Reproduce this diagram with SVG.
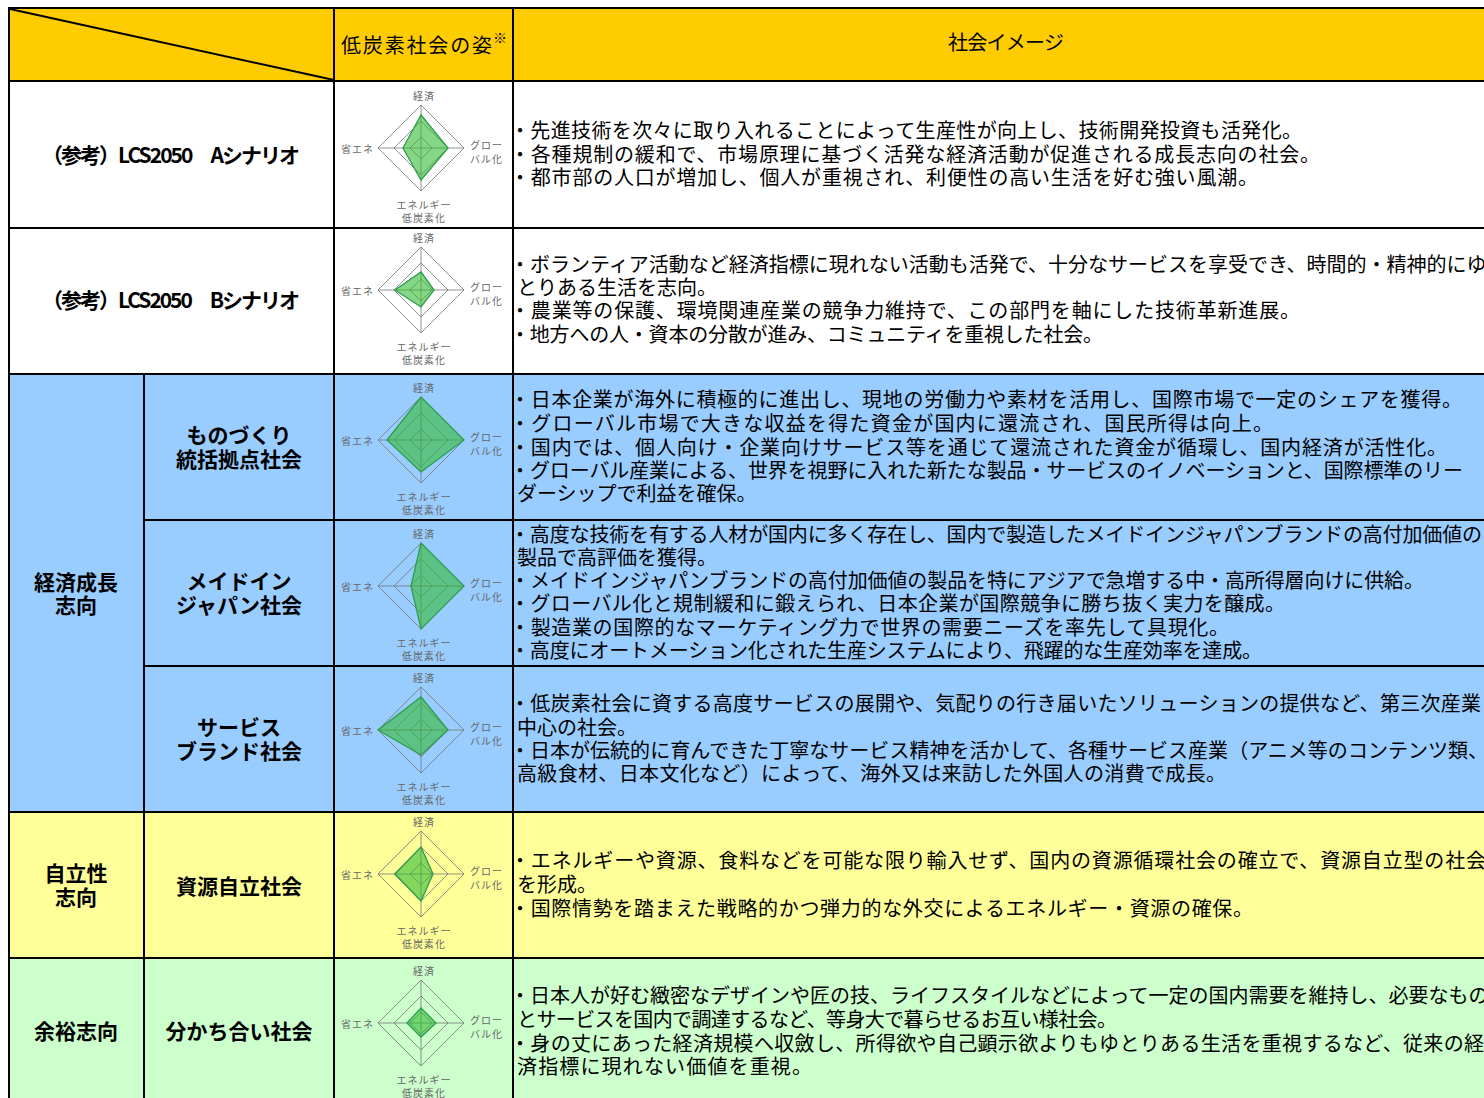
<svg xmlns="http://www.w3.org/2000/svg" xmlns:xlink="http://www.w3.org/1999/xlink" width="1484" height="1098" viewBox="0 0 1484 1098">
<style>
text{font-family:"Noto Sans CJK JP","Liberation Sans",sans-serif;fill:#000}
.b{font-size:20px}
.h{font-size:20px}
.lbl{font-size:21px;font-weight:700;text-anchor:middle}
.ax{font-size:10px;fill:#666;letter-spacing:1px}
.grid{fill:none;stroke:#777;stroke-width:1;stroke-opacity:.8}
.area{fill:#33BB33;fill-opacity:.6;stroke:#2E9E4E;stroke-width:1.3}
.ln{stroke:#000;stroke-width:2;fill:none}
</style>
<defs>
<g id="radar">
<polygon class="grid" points="0,-43 43,0 0,43 -43,0"/>
<polygon class="grid" points="0,-27 27,0 0,27 -27,0"/>
<polygon class="grid" points="0,-11 11,0 0,11 -11,0"/>
<line class="grid" x1="0" y1="-43" x2="0" y2="43"/>
<line class="grid" x1="-43" y1="0" x2="43" y2="0"/>
<text class="ax" x="3" y="-48" text-anchor="middle">経済</text>
<text class="ax" x="-80" y="5">省エネ</text>
<text class="ax" x="49" y="1">グロー</text>
<text class="ax" x="49" y="15">バル化</text>
<text class="ax" x="3" y="61" text-anchor="middle">エネルギー</text>
<text class="ax" x="3" y="74" text-anchor="middle">低炭素化</text>
</g>
</defs>

<g id="backgrounds">
<rect x="9" y="8" width="1475" height="73" fill="#FFCC00"/>
<rect x="9" y="82" width="1475" height="292" fill="#FFFFFF"/>
<rect x="9" y="374" width="1475" height="438" fill="#99CCFF"/>
<rect x="9" y="812" width="1475" height="146" fill="#FFFF99"/>
<rect x="9" y="958" width="1475" height="140" fill="#CCFFCC"/>
</g>

<g id="header">
<text class="h" x="341" y="53" textLength="151">低炭素社会の姿</text>
<text x="493" y="43" font-size="14">※</text>
<text class="h" x="948" y="50" textLength="116">社会イメージ</text>
</g>

<g id="row-a">
<text class="lbl" x="171" y="163" textLength="258">（参考）LCS2050　Aシナリオ</text>
<g id="radar-a" transform="translate(421,148)"><use xlink:href="#radar"/><polygon class="area" points="0,-33 27,0 0,32 -18,0"/></g>
<text class="b" x="510" y="138" textLength="792">・先進技術を次々に取り入れることによって生産性が向上し、技術開発投資も活発化。</text>
<text class="b" x="510" y="162" textLength="810">・各種規制の緩和で、市場原理に基づく活発な経済活動が促進される成長志向の社会。</text>
<text class="b" x="510" y="185" textLength="748">・都市部の人口が増加し、個人が重視され、利便性の高い生活を好む強い風潮。</text>
</g>

<g id="row-b">
<text class="lbl" x="171" y="308" textLength="258">（参考）LCS2050　Bシナリオ</text>
<g id="radar-b" transform="translate(421,290)"><use xlink:href="#radar"/><polygon class="area" points="0,-18 13,0 0,17 -26,0"/></g>
<text class="b" x="510" y="272">・ボランティア活動など経済指標に現れない活動も活発で、十分なサービスを享受でき、時間的・精神的にゆ</text>
<text class="b" x="517" y="295">とりある生活を志向。</text>
<text class="b" x="510" y="318" textLength="790">・農業等の保護、環境関連産業の競争力維持で、この部門を軸にした技術革新進展。</text>
<text class="b" x="510" y="342" textLength="593">・地方への人・資本の分散が進み、コミュニティを重視した社会。</text>
</g>

<g id="group-growth">
<text class="lbl" x="76" y="590">経済成長</text>
<text class="lbl" x="76" y="613">志向</text>
</g>

<g id="row-monozukuri">
<text class="lbl" x="239" y="443">ものづくり</text>
<text class="lbl" x="239" y="467">統括拠点社会</text>
<g id="radar-monozukuri" transform="translate(421,440)"><use xlink:href="#radar"/><polygon class="area" points="0,-43 43,0 0,32 -34,0"/></g>
<text class="b" x="510" y="407" textLength="952">・日本企業が海外に積極的に進出し、現地の労働力や素材を活用し、国際市場で一定のシェアを獲得。</text>
<text class="b" x="510" y="431" textLength="763">・グローバル市場で大きな収益を得た資金が国内に還流され、国民所得は向上。</text>
<text class="b" x="510" y="455" textLength="937">・国内では、個人向け・企業向けサービス等を通じて還流された資金が循環し、国内経済が活性化。</text>
<text class="b" x="510" y="478" textLength="953">・グローバル産業による、世界を視野に入れた新たな製品・サービスのイノベーションと、国際標準のリー</text>
<text class="b" x="517" y="501">ダーシップで利益を確保。</text>
</g>

<g id="row-madeinjapan">
<text class="lbl" x="239" y="589">メイドイン</text>
<text class="lbl" x="239" y="613">ジャパン社会</text>
<g id="radar-madeinjapan" transform="translate(421,586)"><use xlink:href="#radar"/><polygon class="area" points="0,-43 43,0 0,43 -10,0"/></g>
<text class="b" x="510" y="542" textLength="972">・高度な技術を有する人材が国内に多く存在し、国内で製造したメイドインジャパンブランドの高付加価値の</text>
<text class="b" x="517" y="565">製品で高評価を獲得。</text>
<text class="b" x="510" y="588" textLength="914">・メイドインジャパンブランドの高付加価値の製品を特にアジアで急増する中・高所得層向けに供給。</text>
<text class="b" x="510" y="611" textLength="775">・グローバル化と規制緩和に鍛えられ、日本企業が国際競争に勝ち抜く実力を醸成。</text>
<text class="b" x="510" y="635" textLength="719">・製造業の国際的なマーケティング力で世界の需要ニーズを率先して具現化。</text>
<text class="b" x="510" y="658" textLength="752">・高度にオートメーション化された生産システムにより、飛躍的な生産効率を達成。</text>
</g>

<g id="row-service">
<text class="lbl" x="239" y="735">サービス</text>
<text class="lbl" x="239" y="759">ブランド社会</text>
<g id="radar-service" transform="translate(421,730)"><use xlink:href="#radar"/><polygon class="area" points="0,-33 27,0 0,25 -43,0"/></g>
<text class="b" x="510" y="711" textLength="971">・低炭素社会に資する高度サービスの展開や、気配りの行き届いたソリューションの提供など、第三次産業</text>
<text class="b" x="517" y="735">中心の社会。</text>
<text class="b" x="510" y="758" textLength="978">・日本が伝統的に育んできた丁寧なサービス精神を活かして、各種サービス産業（アニメ等のコンテンツ類、</text>
<text class="b" x="517" y="781" textLength="709">高級食材、日本文化など）によって、海外又は来訪した外国人の消費で成長。</text>
</g>

<g id="group-independence">
<text class="lbl" x="76" y="881">自立性</text>
<text class="lbl" x="76" y="905">志向</text>
</g>

<g id="row-resource">
<text class="lbl" x="239" y="894">資源自立社会</text>
<g id="radar-resource" transform="translate(421,874)"><use xlink:href="#radar"/><polygon class="area" points="0,-27 12,0 0,27 -26,0"/></g>
<text class="b" x="510" y="868" textLength="976">・エネルギーや資源、食料などを可能な限り輸入せず、国内の資源循環社会の確立で、資源自立型の社会</text>
<text class="b" x="517" y="892">を形成。</text>
<text class="b" x="510" y="916" textLength="743">・国際情勢を踏まえた戦略的かつ弾力的な外交によるエネルギー・資源の確保。</text>
</g>

<g id="group-leisure">
<text class="lbl" x="76" y="1039">余裕志向</text>
</g>

<g id="row-sharing">
<text class="lbl" x="239" y="1039">分かち合い社会</text>
<g id="radar-sharing" transform="translate(421,1023)"><use xlink:href="#radar"/><polygon class="area" points="0,-15 15,0 0,14 -14,0"/></g>
<text class="b" x="510" y="1003">・日本人が好む緻密なデザインや匠の技、ライフスタイルなどによって一定の国内需要を維持し、必要なもの</text>
<text class="b" x="517" y="1027" textLength="600">とサービスを国内で調達するなど、等身大で暮らせるお互い様社会。</text>
<text class="b" x="510" y="1051" textLength="974">・身の丈にあった経済規模へ収斂し、所得欲や自己顕示欲よりもゆとりある生活を重視するなど、従来の経</text>
<text class="b" x="517" y="1074" textLength="295">済指標に現れない価値を重視。</text>
</g>

<g id="connectors">
<line class="ln" x1="8" y1="8" x2="1484" y2="8" stroke-width="3"/>
<line class="ln" x1="8" y1="81" x2="1484" y2="81" stroke-width="4"/>
<line class="ln" x1="9" y1="228" x2="1484" y2="228"/>
<line class="ln" x1="9" y1="374" x2="1484" y2="374" stroke-width="3"/>
<line class="ln" x1="144" y1="520" x2="1484" y2="520"/>
<line class="ln" x1="144" y1="666" x2="1484" y2="666"/>
<line class="ln" x1="9" y1="812" x2="1484" y2="812"/>
<line class="ln" x1="9" y1="958" x2="1484" y2="958"/>
<line class="ln" x1="9" y1="7" x2="9" y2="1098" stroke="#333"/>
<line class="ln" x1="144" y1="374" x2="144" y2="1098"/>
<line class="ln" x1="334" y1="8" x2="334" y2="1098"/>
<line class="ln" x1="513" y1="8" x2="513" y2="1098"/>
<line class="ln" x1="10" y1="9" x2="334" y2="80"/>
</g>
</svg>
